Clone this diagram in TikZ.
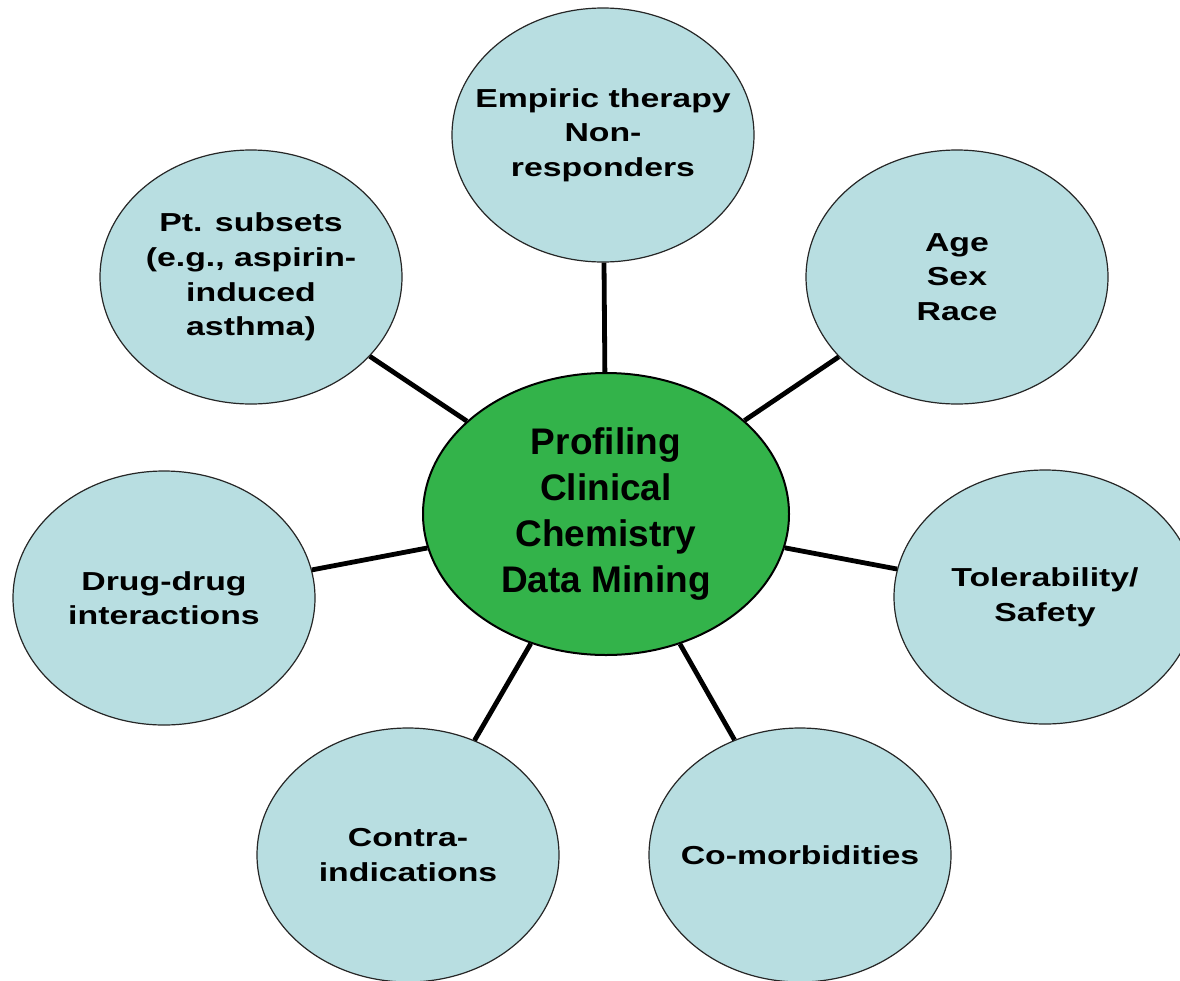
\documentclass[tikz,border=0pt]{standalone}
\usepackage{fontspec}
\setmainfont{Liberation Sans}
\newfontfamily\satfont{Liberation Sans}[FakeStretch=1.30]
\usetikzlibrary{shapes.geometric}
\definecolor{satfill}{HTML}{B8DEE1}
\definecolor{hubfill}{HTML}{33B34A}
\begin{document}
\begin{tikzpicture}[x=1pt,y=-1pt,
  sat/.style={ellipse, draw=black!85, line width=1.2pt, fill=satfill,
    minimum width=302pt, minimum height=254pt, inner sep=0pt},
  sattext/.style={inner sep=0pt, align=center,
    font=\satfont\bfseries\fontsize{26pt}{34.6pt}\selectfont},
  hub/.style={ellipse, draw=black, line width=2pt, fill=hubfill,
    minimum width=366pt, minimum height=282pt, inner sep=0pt, align=center,
    font=\bfseries\fontsize{37pt}{45.7pt}\selectfont},
  link/.style={line width=4.8pt, draw=black}]
\useasboundingbox (0,0) rectangle (1180,980);
\clip (0,0) rectangle (1180,980);
\node[hub] (hub) at (606,514) {Profiling\\Clinical\\Chemistry\\Data Mining};
\node[sat, label={[sattext]center:Empiric therapy\\Non-\\responders}] (emp) at (603,135) {};
\node[sat, label={[sattext]center:Age\\Sex\\Race}] (age) at (957,277) {};
\node[sat, label={[sattext]center:Tolerability/\\Safety}] (tol) at (1045,597) {};
\node[sat, label={[sattext]center:Co-morbidities}] (com) at (800,855) {};
\node[sat, label={[sattext]center:Contra-\\indications}] (con) at (408,855) {};
\node[sat, label={[sattext]center:Drug-drug\\interactions}] (drg) at (164,598) {};
\node[sat, label={[sattext]center:Pt. subsets\\(e.g., aspirin-\\induced\\asthma)}] (pts) at (251,277) {};
\foreach \s in {emp,age,tol,com,con,drg,pts}
  \draw[link] (hub) -- (\s);
\end{tikzpicture}
\end{document}
